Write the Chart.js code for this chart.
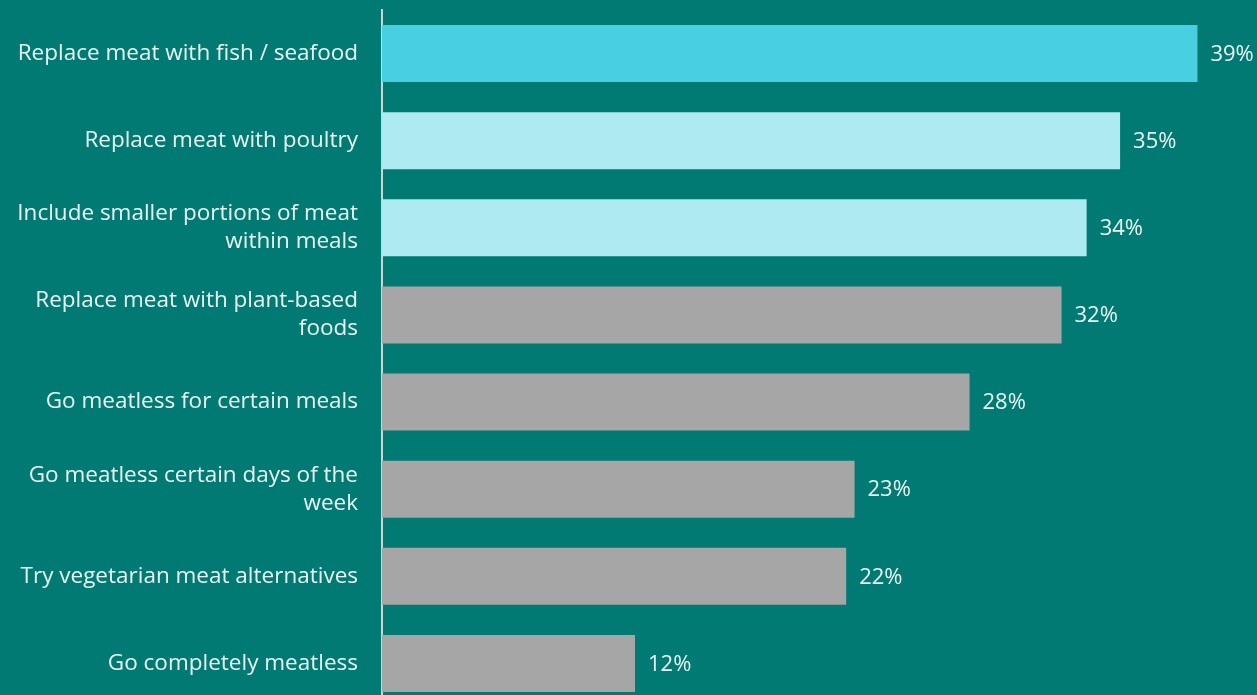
<!DOCTYPE html>
<html>
<head>
<meta charset="utf-8">
<script src="https://cdn.jsdelivr.net/npm/chart.js@4/dist/chart.umd.min.js"></script>
<style>
  html, body { margin: 0; padding: 0; background: #007A72; overflow: hidden; }
  canvas { display: block; }
</style>
</head>
<body>
<canvas id="chart" width="1257" height="717"></canvas>
<script>
var labels = [
  "Replace meat with fish / seafood",
  "Replace meat with poultry",
  ["Include smaller portions of meat", "within meals"],
  ["Replace meat with plant-based", "foods"],
  "Go meatless for certain meals",
  ["Go meatless certain days of the", "week"],
  "Try vegetarian meat alternatives",
  "Go completely meatless"
];
// bar lengths (the printed labels are rounded)
var values = [39, 35.3, 33.7, 32.5, 28.1, 22.6, 22.2, 12.1];
var valueText = ["39%", "35%", "34%", "32%", "28%", "23%", "22%", "12%"];
var barColors = ["#49CFE2", "#AEEAF2", "#AEEAF2", "#A6A6A6", "#A6A6A6", "#A6A6A6", "#A6A6A6", "#A6A6A6"];

var textColor = "#EAF6F4";
var fontFamily = "'Open Sans', sans-serif";

// draws the "39%" style labels just past the end of each bar
var valueLabels = {
  id: "valueLabels",
  afterDatasetsDraw: function (chart) {
    var ctx = chart.ctx;
    var meta = chart.getDatasetMeta(0);
    ctx.save();
    ctx.fillStyle = textColor;
    ctx.font = "22px " + fontFamily;
    ctx.textAlign = "left";
    ctx.textBaseline = "middle";
    meta.data.forEach(function (bar, i) {
      ctx.fillText(valueText[i], bar.x + 13, bar.y + 1);
    });
    ctx.restore();
  }
};

new Chart(document.getElementById("chart"), {
  type: "bar",
  data: {
    labels: labels,
    datasets: [{
      data: values,
      backgroundColor: barColors,
      borderWidth: 0,
      categoryPercentage: 1,
      barPercentage: 0.655
    }]
  },
  options: {
    indexAxis: "y",
    responsive: false,
    animation: false,
    layout: { padding: { top: 10, right: 1, bottom: 10, left: 0 } },
    plugins: {
      legend: { display: false },
      tooltip: { enabled: false }
    },
    scales: {
      x: {
        display: false,
        min: 0,
        max: 41.8
      },
      y: {
        grid: { display: false, drawTicks: false },
        border: { display: true, color: "#CDD5D4", width: 2 },
        afterFit: function (scale) {
          scale.width = 382;
          scale.paddingTop = 0;
          scale.paddingBottom = 0;
        },
        ticks: {
          color: textColor,
          padding: 24,
          font: { family: fontFamily, size: 22.5, lineHeight: 1.25 }
        }
      }
    }
  },
  plugins: [valueLabels]
});
</script>
</body>
</html>
